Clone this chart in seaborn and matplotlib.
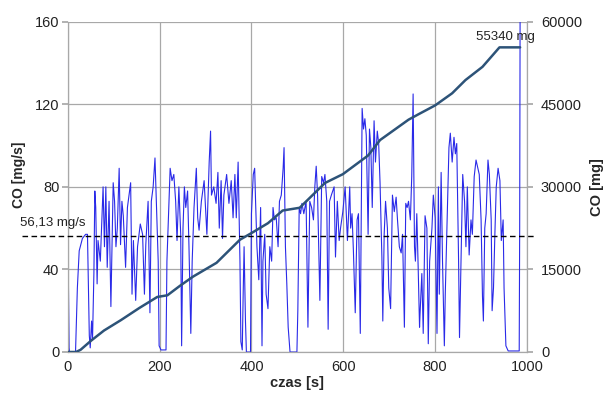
import matplotlib as mpl
mpl.use('Agg')
import matplotlib.pyplot as plt
import pandas as pd
import seaborn as sns

# CO emission rate [mg/s]
rate_t = [0, 1, 3, 4, 17, 21, 25, 32, 39, 43, 47, 49, 52, 54, 57, 59, 61, 64, 66, 71,
          77, 80, 83, 86, 90, 94, 99, 102, 105, 108, 112, 115, 118, 121, 126, 130, 137, 140, 143, 148,
          152, 158, 163, 167, 170, 175, 179, 182, 186, 190, 193, 197, 199, 203, 214, 216, 223, 227, 231, 235,
          238, 242, 246, 248, 251, 254, 257, 261, 264, 268, 271, 275, 280, 283, 286, 291, 297, 303, 308, 311,
          313, 318, 323, 327, 330, 334, 337, 340, 346, 351, 356, 360, 364, 367, 371, 375, 377, 380, 382, 384,
          387, 389, 398, 400, 404, 407, 409, 412, 416, 420, 423, 425, 429, 432, 436, 440, 444, 447, 450, 454,
          458, 461, 465, 469, 471, 474, 477, 480, 484, 499, 501, 504, 507, 510, 514, 519, 523, 527, 531, 535,
          538, 541, 544, 549, 553, 557, 560, 564, 567, 570, 574, 580, 583, 587, 591, 594, 599, 604, 609, 614,
          616, 619, 622, 626, 630, 633, 637, 640, 641, 644, 647, 650, 654, 657, 660, 663, 667, 670, 674, 677,
          680, 684, 686, 689, 692, 696, 699, 703, 707, 711, 715, 718, 722, 726, 729, 733, 736, 739, 742, 746,
          749, 752, 755, 757, 760, 763, 766, 767, 771, 774, 778, 782, 785, 788, 793, 796, 800, 804, 807, 809,
          813, 816, 820, 822, 826, 830, 833, 837, 841, 844, 847, 851, 853, 857, 860, 864, 867, 870, 874, 878,
          881, 885, 889, 893, 896, 900, 903, 905, 908, 911, 915, 918, 922, 924, 927, 930, 933, 937, 941, 944,
          948, 950, 954, 959, 982, 983, 984, 985]
rate_v = [30, 44, 2, 0, 0, 31, 49, 55, 57, 57, 8, 2, 15, 6, 38, 78, 70, 33, 54, 44,
          80, 51, 80, 41, 73, 22, 82, 73, 51, 60, 89, 52, 73, 66, 41, 70, 82, 28, 54, 25,
          51, 62, 57, 28, 52, 73, 19, 73, 80, 94, 73, 44, 3, 1, 1, 44, 89, 83, 86, 73,
          54, 80, 57, 3, 60, 80, 70, 78, 51, 9, 44, 70, 89, 65, 59, 73, 83, 57, 92, 107,
          76, 80, 72, 87, 60, 83, 55, 76, 86, 72, 83, 65, 86, 65, 92, 44, 5, 1, 28, 51,
          15, 0, 0, 67, 86, 89, 73, 51, 35, 70, 3, 44, 57, 28, 21, 51, 44, 70, 64, 65,
          51, 73, 76, 89, 99, 51, 33, 12, 0, 0, 20, 70, 67, 72, 67, 73, 12, 73, 70, 64,
          80, 90, 76, 25, 85, 82, 86, 73, 11, 73, 76, 80, 46, 73, 54, 60, 68, 80, 54, 80,
          60, 67, 49, 19, 64, 67, 9, 92, 118, 108, 113, 105, 57, 108, 99, 70, 112, 92, 107, 101,
          82, 46, 15, 57, 73, 60, 31, 21, 76, 68, 75, 64, 51, 48, 57, 12, 72, 70, 73, 64,
          85, 125, 51, 44, 67, 41, 12, 18, 38, 9, 66, 60, 4, 44, 60, 76, 65, 9, 80, 28,
          87, 44, 3, 28, 64, 99, 106, 92, 104, 96, 101, 44, 7, 51, 86, 73, 51, 80, 47, 64,
          57, 85, 93, 89, 86, 64, 27, 15, 60, 67, 93, 86, 64, 20, 31, 57, 80, 89, 83, 54,
          64, 31, 3, 0.5, 0.5, 0.5, 60, 170]

# cumulative CO [mg]
cum_t = [0, 18, 28, 50, 79, 116, 156, 195, 217, 244, 273, 324, 375, 400, 436, 468,
         505, 560, 599, 654, 680, 742, 764, 800, 837, 866, 903, 925, 940, 985]
cum_v = [0, 0, 400, 2000, 3900, 5800, 8000, 10000, 10300, 12000, 13700, 16200, 20400, 21600, 23400, 25700,
         26200, 30700, 32300, 35700, 38500, 42200, 43200, 44800, 47000, 49400, 51800, 53900, 55340, 55340]

mean_rate = 56.13
total = 55340

sns.set_theme(style="whitegrid")
plt.rcParams['font.family'] = ['Liberation Sans', 'DejaVu Sans']

fig, ax = plt.subplots(figsize=(6.03, 3.99), dpi=100)
fig.subplots_adjust(left=0.1123, right=0.874, top=0.9456, bottom=0.1178)

rate = pd.DataFrame({'t': rate_t, 'v': rate_v})
cum = pd.DataFrame({'t': cum_t, 'v': cum_v})

sns.lineplot(data=rate, x='t', y='v', ax=ax, color='#2a2ae8', linewidth=0.8)
ax.axhline(mean_rate, xmin=-0.1, xmax=1.02, color='black', linestyle=(0, (4, 2.5)),
           linewidth=1.0, clip_on=False, zorder=5)
ax.text(-104, 62.5, '56,13 mg/s', fontsize=9.5, ha='left', va='center', color='#222222')

ax.set_xlim(0, 1000)
ax.set_ylim(0, 160)
ax.set_xticks([0, 200, 400, 600, 800, 1000])
ax.set_yticks([0, 40, 80, 120, 160])
ax.set_xlabel('czas [s]', fontsize=10.5, fontweight='bold', labelpad=1)
ax.set_ylabel('CO [mg/s]', fontsize=10, fontweight='bold')
ax.yaxis.set_label_coords(-0.09, 0.535)
ax.grid(True, color='#a8a8a8', linewidth=0.9)
ax.tick_params(labelsize=10.5, length=4, color='#a8a8a8', pad=2, labelcolor='#222222')
for side in ['top', 'right']:
    ax.spines[side].set_visible(False)
for side in ['left', 'bottom']:
    ax.spines[side].set_color('#a8a8a8')
    ax.spines[side].set_linewidth(0.9)

ax2 = ax.twinx()
sns.lineplot(data=cum, x='t', y='v', ax=ax2, color='#2d5378', linewidth=1.8)
ax2.set_ylim(0, 60000)
ax2.set_yticks([0, 15000, 30000, 45000, 60000])
ax2.grid(False)
ax2.set_ylabel('CO [mg]', fontsize=10.5, fontweight='bold', labelpad=6)
ax2.tick_params(labelsize=10.5, length=4, color='#a8a8a8', pad=6, labelcolor='#222222')
for side in ['top', 'left', 'bottom']:
    ax2.spines[side].set_visible(False)
ax2.spines['right'].set_color('#a8a8a8')
ax2.spines['right'].set_linewidth(0.9)
ax2.text(1017, 57300, '55340 mg', fontsize=9.5, ha='right', va='center', color='#222222')

fig.savefig('out.png', dpi=100)
